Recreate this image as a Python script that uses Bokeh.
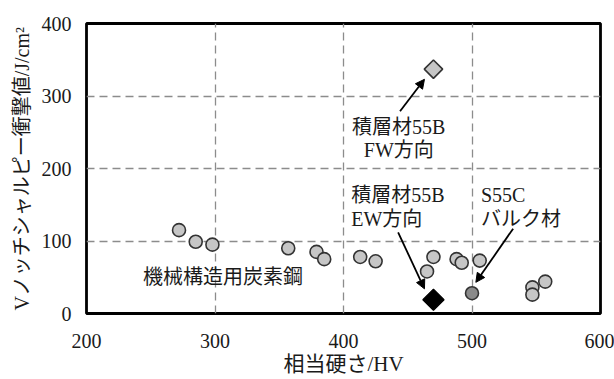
import numpy as np
from bokeh.plotting import figure
from bokeh.models import ColumnDataSource, Arrow, NormalHead, FixedTicker
from bokeh.core.properties import value
from bokeh.embed import file_html
from bokeh.resources import INLINE

# 機械構造用炭素鋼 (carbon steel) data
steel_hv = [272, 285, 298, 357, 379, 385, 413, 425, 465, 470, 488, 492, 506, 547, 547, 557]
steel_e = [115, 99, 95, 90, 85, 75, 78, 72, 58, 78, 75, 70, 73, 36, 26, 44]
# S55C bulk
s55c_hv = [500]
s55c_e = [28]
# 積層材55B FW / EW
fw_hv = [470]
fw_e = [337]
ew_hv = [470]
ew_e = [19]

x_ticks = [200, 300, 400, 500, 600]
y_ticks = [0, 100, 200, 300, 400]

# annotation labels (data coordinates)
lbl_text = ["機械構造用炭素鋼", "積層材55B", "FW方向", "積層材55B", "EW方向", "S55C", "バルク材"]
lbl_x = [244, 443, 443, 406, 406, 507, 507]
lbl_y = [50, 257, 225, 164, 131, 164, 131]
lbl_align = ["left", "center", "center", "left", "left", "left", "left"]
arr_x0 = [444, 442.5, 532]
arr_y0 = [279, 112, 117]
arr_x1 = [463, 463, 503]
arr_y1 = [323, 34, 43]

FONT = "Liberation Serif, Noto Sans CJK JP"

p = figure(width=614, height=379, x_range=(200, 600), y_range=(0, 400),
           output_backend="svg", toolbar_location=None,
           min_border_left=86, min_border_right=14, min_border_top=23, min_border_bottom=66)

p.outline_line_color = "black"
p.outline_line_width = 2.8
p.background_fill_color = "white"
p.border_fill_color = "white"

for ax in (p.xaxis[0], p.yaxis[0]):
    ax.axis_line_color = None
    ax.major_tick_line_color = None
    ax.minor_tick_line_color = None
    ax.major_label_text_font = FONT
    ax.major_label_text_font_size = "20px"
    ax.major_label_text_color = "#1a1a1a"
    ax.axis_label_text_font = FONT
    ax.axis_label_text_font_style = "normal"
    ax.axis_label_text_color = "#1a1a1a"

p.xaxis.axis_label_text_font_size = "21px"
p.yaxis.axis_label_text_font_size = "20px"
p.xaxis.ticker = FixedTicker(ticks=x_ticks)
p.yaxis.ticker = FixedTicker(ticks=y_ticks)
p.xaxis.major_label_standoff = 14
p.yaxis.major_label_standoff = 9
p.xaxis.axis_label = "相当硬さ/HV"
p.yaxis.axis_label = "Vノッチシャルピー衝撃値/J/cm²"
p.xaxis.axis_label_standoff = 1
p.yaxis.axis_label_standoff = 6

p.grid.ticker = FixedTicker(ticks=[100, 200, 300, 400, 500])
p.grid.grid_line_color = "#8c8c8c"
p.grid.grid_line_dash = "8 5"
p.grid.grid_line_width = 1.3

p.scatter(steel_hv, steel_e, marker="circle", size=13, fill_color="#c6c6c6",
          line_color="#333333", line_width=1.6)
p.scatter(s55c_hv, s55c_e, marker="circle", size=13, fill_color="#8a8a8a",
          line_color="#333333", line_width=1.6)
p.scatter(fw_hv, fw_e, marker="square", size=13, angle=np.pi / 4, fill_color="#c6c6c6",
          line_color="#333333", line_width=1.6)
p.scatter(ew_hv, ew_e, marker="square", size=15, angle=np.pi / 4, fill_color="black",
          line_color="black", line_width=1.2)

src = ColumnDataSource(dict(x=lbl_x, y=lbl_y, t=lbl_text, a=lbl_align))
p.text(x="x", y="y", text="t", text_align="a", source=src, text_baseline="middle",
       text_font=value(FONT), text_font_size="20px", text_color="#1a1a1a")

for x0, y0, x1, y1 in zip(arr_x0, arr_y0, arr_x1, arr_y1):
    p.add_layout(Arrow(x_start=x0, y_start=y0, x_end=x1, y_end=y1,
                       line_color="black", line_width=1.8,
                       end=NormalHead(size=9, fill_color="black", line_color="black")))

open("out.html", "w").write(file_html(p, INLINE))
